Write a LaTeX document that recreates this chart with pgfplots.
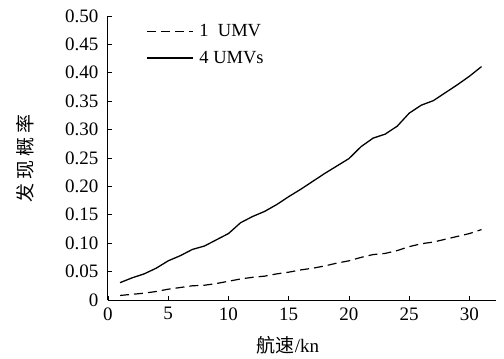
\documentclass[border=0pt]{standalone}
\usepackage{pgfplots}
\pgfplotsset{compat=1.18}
\usepackage{fontspec}
\setmainfont{Liberation Serif}
\newfontfamily\cjk{Noto Sans CJK SC}
\begin{document}
\begin{tikzpicture}
\begin{axis}[
  scale only axis,
  width=388pt, height=284pt,
  xmin=0, xmax=32.2, ymin=0, ymax=0.5,
  axis lines*=left,
  axis line style={line width=1pt},
  tick style={black, line width=0.8pt},
  tick align=inside,
  major tick length=4pt,
  xtick={0,5,10,15,20,25,30},
  ytick={0,0.05,0.1,0.15,0.2,0.25,0.3,0.35,0.4,0.45,0.5},
  yticklabels={0,0.05,0.10,0.15,0.20,0.25,0.30,0.35,0.40,0.45,0.50},
  /pgf/number format/assume math mode=true,
  tick label style={font=\fontsize{19}{21}\selectfont},
  xticklabel style={yshift=-4pt},
  yticklabel style={xshift=-6pt},
  xlabel={{\cjk 航速}/kn},
  ylabel={\cjk 发\hspace{4pt}现\hspace{4pt}概\hspace{4pt}率},
  label style={font=\fontsize{19}{21}\selectfont},
  xlabel style={at={(rel axis cs:0.464,-0.158)}, anchor=center},
  ylabel style={at={(rel axis cs:-0.214,0.5)}, anchor=center},
  legend style={draw=none, fill=none, at={(0.09,0.985)}, anchor=north west,
    font=\fontsize{18.5}{20}\selectfont, row sep=9pt,
    legend cell align=left},
  legend image code/.code={\draw[#1] (0pt,0pt) -- (46pt,0pt); \path (50pt,0pt);},
]
\addplot[black, line width=1.2pt, dash pattern=on 9pt off 5pt] coordinates {
(1,0.008)(2,0.010)(3,0.012)(4,0.015)(5,0.019)(6,0.022)(7,0.025)(8,0.026)(9,0.029)(10,0.033)
(11,0.037)(12,0.040)(13,0.042)(14,0.046)(15,0.049)(16,0.053)(17,0.056)(18,0.060)(19,0.065)(20,0.069)
(21,0.075)(22,0.080)(23,0.082)(24,0.087)(25,0.094)(26,0.099)(27,0.102)(28,0.107)(29,0.112)(30,0.117)(31,0.124)};
\addlegendentry{1\ \ UMV}
\addplot[black, line width=1.3pt] coordinates {
(1,0.0305)(2,0.039)(3,0.046)(4,0.056)(5,0.069)(6,0.078)(7,0.089)(8,0.095)(9,0.106)(10,0.117)
(11,0.136)(12,0.147)(13,0.156)(14,0.168)(15,0.182)(16,0.195)(17,0.209)(18,0.223)(19,0.236)(20,0.249)
(21,0.270)(22,0.285)(23,0.292)(24,0.306)(25,0.329)(26,0.343)(27,0.351)(28,0.365)(29,0.379)(30,0.394)(31,0.411)};
\addlegendentry{4 UMVs}
\end{axis}
\useasboundingbox (-108pt,-59pt) rectangle (396pt,300pt);
\end{tikzpicture}
\end{document}
